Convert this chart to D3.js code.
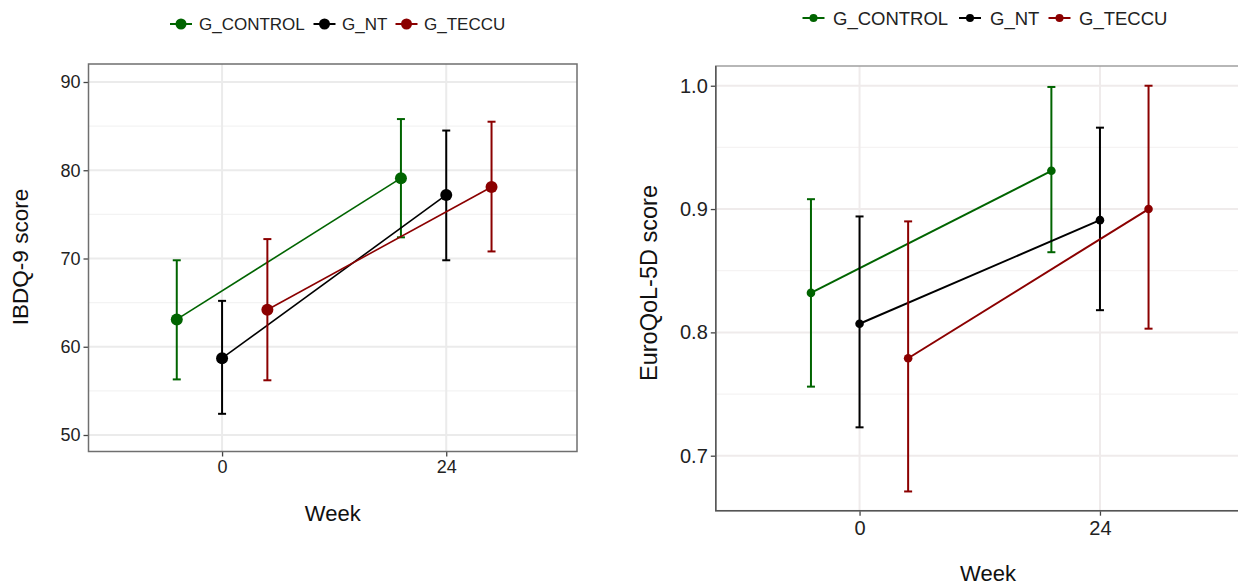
<!DOCTYPE html>
<html>
<head>
<meta charset="utf-8">
<script src="https://cdn.jsdelivr.net/npm/d3@7"></script>
<style>
  body { margin: 0; background: #fff; }
  svg { display: block; font-family: "Liberation Sans", Arial, sans-serif; }
</style>
</head>
<body>
<div id="chart"></div>
<script>
// data
const groups = ["G_CONTROL", "G_NT", "G_TECCU"];
const groupColors = ["#006400", "#000000", "#8b0000"];
const weeks = [0, 24];
const weekTicks = [0, 24];

// IBDQ-9: mean, lower and upper bar per group at week 0 / 24
const ibdqMean = [[63.1, 79.1], [58.7, 77.2], [64.2, 78.1]];
const ibdqLow  = [[56.3, 72.4], [52.4, 69.8], [56.2, 70.8]];
const ibdqHigh = [[69.8, 85.8], [65.2, 84.5], [72.2, 85.5]];
const ibdqTicks = [50, 60, 70, 80, 90];
const ibdqMinor = [55, 65, 75, 85];

// EuroQoL-5D
const eqMean = [[0.832, 0.931], [0.807, 0.891], [0.779, 0.900]];
const eqLow  = [[0.756, 0.865], [0.723, 0.818], [0.671, 0.803]];
const eqHigh = [[0.908, 0.999], [0.894, 0.966], [0.890, 1.000]];
const eqTicks = [0.7, 0.8, 0.9, 1.0];
const eqMinor = [0.75, 0.85, 0.95];

// dodge of each group along the week axis
const dodge = [-4.85, 0, 4.85];

var svg = d3.select("#chart").append("svg")
    .attr("width", 1238)
    .attr("height", 586);

function drawPanel(cfg) {
    var x = d3.scaleLinear().domain(cfg.xDomain).range(cfg.xRange);
    var y = d3.scaleLinear().domain(cfg.yDomain).range(cfg.yRange);
    var g = svg.append("g");
    var x0 = cfg.xRange[0], x1 = cfg.xRange[1], yb = cfg.yRange[0], yt = cfg.yRange[1];

    // grid
    g.selectAll(".minor").data(cfg.minor).enter().append("line")
        .attr("x1", x0).attr("x2", x1)
        .attr("y1", d => y(d)).attr("y2", d => y(d))
        .attr("stroke", cfg.minorColor).attr("stroke-width", 1.2);
    g.selectAll(".major").data(cfg.ticks).enter().append("line")
        .attr("x1", x0).attr("x2", x1)
        .attr("y1", d => y(d)).attr("y2", d => y(d))
        .attr("stroke", cfg.gridColor).attr("stroke-width", 2);
    g.selectAll(".vmajor").data(weekTicks).enter().append("line")
        .attr("x1", d => x(d)).attr("x2", d => x(d))
        .attr("y1", yt).attr("y2", yb)
        .attr("stroke", cfg.gridColor).attr("stroke-width", 2);

    // y axis
    var yAxis = g.append("g")
        .attr("transform", "translate(" + x0 + ",0)")
        .call(d3.axisLeft(y).tickValues(cfg.ticks).tickFormat(cfg.fmt).tickSize(5).tickPadding(3));
    yAxis.select(".domain").remove();
    yAxis.selectAll("line").attr("stroke", "#444").attr("stroke-width", 1.3);
    yAxis.selectAll("text").attr("font-size", cfg.tickFont).attr("fill", "#222")
        .attr("font-family", "Liberation Sans, Arial, sans-serif");

    // x axis
    var xAxis = g.append("g")
        .attr("transform", "translate(0," + yb + ")")
        .call(d3.axisBottom(x).tickValues(weekTicks).tickSize(5).tickPadding(cfg.xPad));
    xAxis.select(".domain").remove();
    xAxis.selectAll("line").attr("stroke", "#444").attr("stroke-width", 1.3);
    xAxis.selectAll("text").attr("font-size", cfg.tickFont).attr("fill", "#222")
        .attr("font-family", "Liberation Sans, Arial, sans-serif");

    // border
    g.append("rect")
        .attr("x", x0).attr("y", yt)
        .attr("width", x1 - x0).attr("height", yb - yt)
        .attr("fill", "none").attr("stroke", cfg.borderColor).attr("stroke-width", 1.5);
    if (cfg.axisColor) {
        g.append("path")
            .attr("d", "M" + x0 + "," + yt + "V" + yb + "H" + x1)
            .attr("fill", "none").attr("stroke", cfg.axisColor).attr("stroke-width", 1.5);
    }

    // series
    groups.forEach(function(name, i) {
        var pts = weeks.map(function(w, j) {
            return { w: w + dodge[i], m: cfg.mean[i][j], lo: cfg.low[i][j], hi: cfg.high[i][j] };
        });
        var col = groupColors[i];
        g.append("path").datum(pts)
            .attr("d", d3.line().x(d => x(d.w)).y(d => y(d.m)))
            .attr("fill", "none").attr("stroke", col).attr("stroke-width", cfg.lineW);
        var eb = g.selectAll(".eb" + i).data(pts).enter().append("g");
        eb.append("line")
            .attr("x1", d => x(d.w)).attr("x2", d => x(d.w))
            .attr("y1", d => y(d.lo)).attr("y2", d => y(d.hi))
            .attr("stroke", col).attr("stroke-width", 2);
        eb.append("line")
            .attr("x1", d => x(d.w) - 4).attr("x2", d => x(d.w) + 4)
            .attr("y1", d => y(d.lo)).attr("y2", d => y(d.lo))
            .attr("stroke", col).attr("stroke-width", 2);
        eb.append("line")
            .attr("x1", d => x(d.w) - 4).attr("x2", d => x(d.w) + 4)
            .attr("y1", d => y(d.hi)).attr("y2", d => y(d.hi))
            .attr("stroke", col).attr("stroke-width", 2);
        eb.append("circle")
            .attr("cx", d => x(d.w)).attr("cy", d => y(d.m))
            .attr("r", cfg.pointR).attr("fill", col);
    });

    // axis titles
    g.append("text")
        .attr("x", (x0 + x1) / 2 + cfg.weekShift).attr("y", cfg.weekY)
        .attr("text-anchor", "middle").attr("font-size", 22).attr("fill", "#111")
        .text("Week");
    g.append("text")
        .attr("transform", "translate(" + cfg.yTitleX + "," + cfg.yTitleY + ") rotate(-90)")
        .attr("text-anchor", "middle").attr("font-size", cfg.yTitleFont).attr("fill", "#111")
        .text(cfg.yTitle);

    // legend
    var lg = g.append("g");
    groups.forEach(function(name, i) {
        var kx = cfg.legKeys[i];
        lg.append("line")
            .attr("x1", kx - 11).attr("x2", kx + 11)
            .attr("y1", cfg.legY).attr("y2", cfg.legY)
            .attr("stroke", groupColors[i]).attr("stroke-width", 2);
        lg.append("circle")
            .attr("cx", kx).attr("cy", cfg.legY).attr("r", cfg.legR)
            .attr("fill", groupColors[i]);
        lg.append("text")
            .attr("x", cfg.legText[i]).attr("y", cfg.legY)
            .attr("dy", "0.36em").attr("font-size", cfg.legFont).attr("fill", "#222")
            .text(name);
    });
}

drawPanel({
    xDomain: [-14.3, 38], xRange: [88.5, 577],
    yDomain: [48.13, 92.04], yRange: [451.5, 64],
    ticks: ibdqTicks, minor: ibdqMinor, fmt: d3.format("d"),
    mean: ibdqMean, low: ibdqLow, high: ibdqHigh,
    gridColor: "#ebebeb", minorColor: "#f3f3f3",
    borderColor: "#6f6f6f", axisColor: null,
    tickFont: 18, xPad: 4, lineW: 1.6, pointR: 6,
    weekShift: 0, weekY: 521,
    yTitle: "IBDQ-9 score", yTitleX: 28, yTitleY: 257, yTitleFont: 22.5,
    legY: 24, legKeys: [181, 324.5, 406.5], legText: [199, 342, 424], legFont: 17, legR: 5.5
});

drawPanel({
    xDomain: [-14.35, 38], xRange: [715.8, 1240.2],
    yDomain: [0.6554, 1.016], yRange: [510.7, 66],
    ticks: eqTicks, minor: eqMinor, fmt: d3.format(".1f"),
    mean: eqMean, low: eqLow, high: eqHigh,
    gridColor: "#efebeb", minorColor: "#f5f3f3",
    borderColor: "#a0a0a0", axisColor: "#555",
    tickFont: 20, xPad: 5, lineW: 2, pointR: 4.3,
    weekShift: 10, weekY: 581,
    yTitle: "EuroQoL-5D score", yTitleX: 657, yTitleY: 283, yTitleFont: 23.5,
    legY: 18, legKeys: [813.5, 970, 1059.5], legText: [833, 990, 1079], legFont: 18.5, legR: 4
});
</script>
</body>
</html>
